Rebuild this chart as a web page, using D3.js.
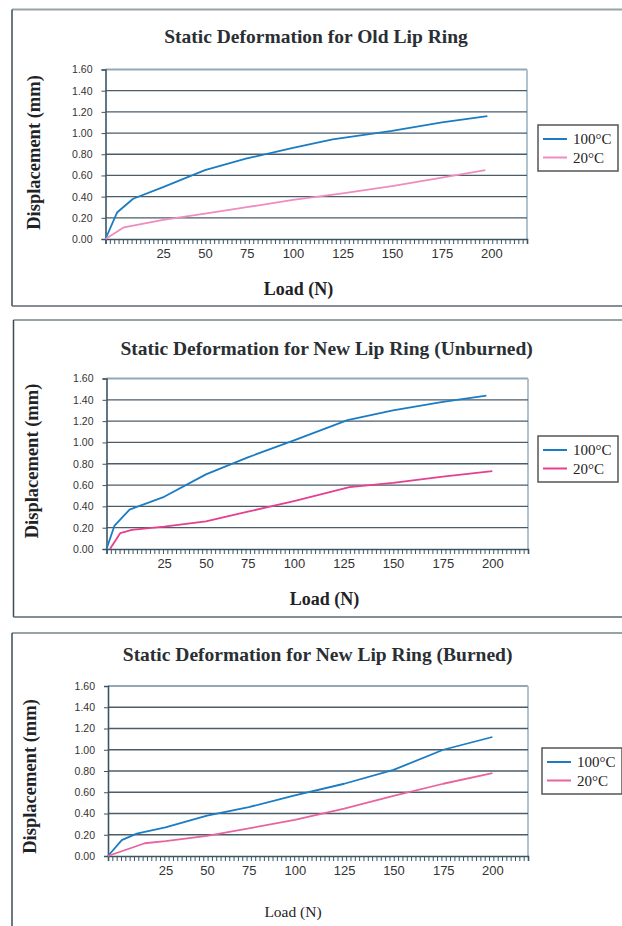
<!DOCTYPE html>
<html>
<head>
<meta charset="utf-8">
<script src="https://cdn.jsdelivr.net/npm/d3@7"></script>
<style>
  html, body { margin: 0; padding: 0; background: #fff; }
  svg { display: block; }
</style>
</head>
<body>
<svg id="chart" width="622" height="926"></svg>
<script>
// ---- Data: load (N) vs. displacement (mm) ----
const chartTitles = [
  "Static Deformation for Old Lip Ring",
  "Static Deformation for New Lip Ring (Unburned)",
  "Static Deformation for New Lip Ring (Burned)"
];
const seriesNames = ["100°C", "20°C"];
const xTickLabels = [25, 50, 75, 100, 125, 150, 175, 200];
const yTickValues = [0, 0.2, 0.4, 0.6, 0.8, 1.0, 1.2, 1.4, 1.6];
// category axis: load value reached at each labelled position, plus axis end
const loadBreaks = [0, 25, 50, 75, 100, 125, 150, 175, 200, 218];

const oldRing100 = [[0,0],[5,0.25],[12,0.38],[25,0.49],[50,0.65],[75,0.76],[100,0.86],[120,0.94],[150,1.02],[175,1.10],[198,1.16]];
const oldRing20  = [[0,0],[8,0.11],[25,0.18],[50,0.24],[75,0.30],[100,0.37],[125,0.43],[150,0.50],[175,0.58],[197,0.65]];

const unburned100 = [[0,0],[3.5,0.22],[10,0.37],[25,0.49],[50,0.70],[75,0.86],[100,1.02],[127,1.21],[150,1.30],[175,1.38],[197,1.44]];
const unburned20  = [[1.5,0],[6,0.15],[11,0.18],[25,0.21],[50,0.26],[75,0.35],[100,0.45],[128,0.58],[150,0.62],[175,0.68],[200,0.73]];

const burned100 = [[0,0],[6,0.15],[12.5,0.21],[25,0.27],[50,0.38],[75,0.46],[100,0.57],[125,0.68],[150,0.81],[175,1.00],[200,1.12]];
const burned20  = [[0,0],[16,0.12],[25,0.14],[50,0.19],[75,0.26],[100,0.34],[125,0.445],[150,0.565],[175,0.68],[200,0.78]];

const chartSeries = [
  [oldRing100, oldRing20],
  [unburned100, unburned20],
  [burned100, burned20]
];

// ---- Layout and style ----
const breakFrac = [0, 0.1367, 0.2359, 0.3353, 0.4448, 0.5624, 0.6797, 0.7982, 0.9153, 1];
const minorTickCount = 97;
const blue = "#1b7cc3";
const panels = [
  { box: { x: 12, y: 9.5, b: 306 }, plot: { l: 105.5, r: 527, t: 69.5, b: 239 },
    title: { x: 316, y: 43.3 }, yLab: { x: 39.5, y: 152.5 },
    xLab: { x: 298.5, y: 295, bold: true }, legend: { x: 538, y: 125 },
    colors: [blue, "#ee8cc0"] },
  { box: { x: 13.5, y: 320, b: 617 }, plot: { l: 106.5, r: 528, t: 378.5, b: 549 },
    title: { x: 326.6, y: 355 }, yLab: { x: 37.5, y: 461 },
    xLab: { x: 324.5, y: 605, bold: true }, legend: { x: 538, y: 436 },
    colors: [blue, "#e4408d"] },
  { box: { x: 12, y: 633, b: null }, plot: { l: 108, r: 528, t: 686, b: 856 },
    title: { x: 317.6, y: 660.7 }, yLab: { x: 35.5, y: 776.5 },
    xLab: { x: 293, y: 917, bold: false }, legend: { x: 542, y: 748 },
    colors: [blue, "#e8649f"] }
];

const serif = "'Liberation Serif', 'Times New Roman', serif";
const sans = "'Liberation Sans', Arial, sans-serif";
const svg = d3.select("#chart");

panels.forEach((p, i) => {
  const g = svg.append("g");
  const P = p.plot;

  // outer frame
  g.append("line").attr("x1", p.box.x).attr("x2", 640).attr("y1", p.box.y).attr("y2", p.box.y)
    .attr("stroke", "#98a3a6").attr("stroke-width", 2);
  g.append("line").attr("x1", p.box.x).attr("x2", p.box.x).attr("y1", p.box.y)
    .attr("y2", p.box.b === null ? 940 : p.box.b)
    .attr("stroke", "#3a4c58").attr("stroke-width", 1.5);
  if (p.box.b !== null) {
    g.append("line").attr("x1", p.box.x).attr("x2", 640).attr("y1", p.box.b).attr("y2", p.box.b)
      .attr("stroke", "#5b6870").attr("stroke-width", 1.5);
  }

  // scales
  const x = d3.scaleLinear().domain(loadBreaks)
    .range(breakFrac.map(f => P.l + f * (P.r - P.l)));
  const y = d3.scaleLinear().domain([0, 1.6]).range([P.b, P.t]);
  const minor = d3.scaleLinear().domain([0, minorTickCount]).range([P.l, P.r]);

  // plot border (top/right)
  g.append("line").attr("x1", P.l).attr("x2", P.r).attr("y1", P.t).attr("y2", P.t)
    .attr("stroke", "#93a8b6").attr("stroke-width", 1.8);
  g.append("line").attr("x1", P.r).attr("x2", P.r).attr("y1", P.t).attr("y2", P.b)
    .attr("stroke", "#a9bccb").attr("stroke-width", 1.8);

  // horizontal gridlines
  g.append("g").selectAll("line")
    .data(yTickValues.filter(v => v > 0 && v < 1.6))
    .join("line")
    .attr("x1", P.l).attr("x2", P.r)
    .attr("y1", d => y(d)).attr("y2", d => y(d))
    .attr("stroke", "#4b5d69").attr("stroke-width", 1.3);

  // y axis
  const yAxis = g.append("g").attr("transform", `translate(${P.l},0)`)
    .call(d3.axisLeft(y).tickValues(yTickValues).tickFormat(d3.format(".2f"))
      .tickSize(4).tickPadding(9));
  yAxis.select(".domain").attr("stroke", "#3d5563").attr("stroke-width", 1.6);
  yAxis.selectAll(".tick line").attr("stroke", "#3d5563").attr("stroke-width", 1);
  yAxis.selectAll(".tick text").attr("font-family", sans).attr("font-size", 10.5).attr("fill", "#333");

  // x axis: minor category ticks
  const xMinor = g.append("g").attr("transform", `translate(0,${P.b})`)
    .call(d3.axisBottom(minor).tickValues(d3.range(minorTickCount + 1)).tickFormat("").tickSize(5));
  xMinor.select(".domain").attr("stroke", "#3d5563").attr("stroke-width", 1.6);
  xMinor.selectAll(".tick line").attr("stroke", "#3d5563").attr("stroke-width", 1);

  // x axis: labels
  const xAxis = g.append("g").attr("transform", `translate(0,${P.b})`)
    .call(d3.axisBottom(x).tickValues(xTickLabels).tickSize(0).tickPadding(10));
  xAxis.select(".domain").remove();
  xAxis.selectAll(".tick text").attr("font-family", sans).attr("font-size", 13).attr("fill", "#333");

  // series lines
  const line = d3.line().x(d => x(d[0])).y(d => y(d[1]));
  chartSeries[i].forEach((s, k) => {
    g.append("path").datum(s).attr("d", line)
      .attr("fill", "none").attr("stroke", p.colors[k]).attr("stroke-width", 1.8)
      .attr("stroke-linejoin", "round");
  });

  // title
  g.append("text").attr("x", p.title.x).attr("y", p.title.y)
    .attr("text-anchor", "middle").attr("font-family", serif).attr("font-weight", "bold")
    .attr("font-size", 19.5).attr("fill", "#2a2f33").text(chartTitles[i]);

  // axis titles
  g.append("text").attr("transform", `translate(${p.yLab.x},${p.yLab.y}) rotate(-90)`)
    .attr("text-anchor", "middle").attr("font-family", serif).attr("font-weight", "bold")
    .attr("font-size", 18.5).attr("fill", "#1f2326").text("Displacement (mm)");
  g.append("text").attr("x", p.xLab.x).attr("y", p.xLab.y)
    .attr("text-anchor", "middle").attr("font-family", serif)
    .attr("font-weight", p.xLab.bold ? "bold" : "normal")
    .attr("font-size", p.xLab.bold ? 18 : 15.5).attr("fill", "#1f2326").text("Load (N)");

  // legend
  const L = g.append("g").attr("transform", `translate(${p.legend.x},${p.legend.y})`);
  L.append("rect").attr("width", 80).attr("height", 46).attr("fill", "#fff")
    .attr("stroke", "#555").attr("stroke-width", 1.5);
  seriesNames.forEach((name, k) => {
    const cy = 14 + k * 18.5;
    L.append("line").attr("x1", 5).attr("x2", 29).attr("y1", cy).attr("y2", cy)
      .attr("stroke", p.colors[k]).attr("stroke-width", 2);
    L.append("text").attr("x", 35).attr("y", cy + 5).attr("font-family", serif)
      .attr("font-size", 15).attr("fill", "#222").text(name);
  });
});
</script>
</body>
</html>
